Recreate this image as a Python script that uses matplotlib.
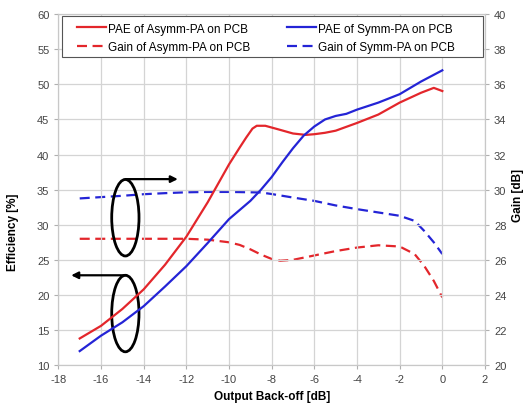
import matplotlib
matplotlib.use('Agg')
from matplotlib import pyplot as plt
from matplotlib.patches import Ellipse, Rectangle

plt.rcParams['font.family'] = ['Liberation Sans', 'DejaVu Sans']
plt.rcParams['axes.unicode_minus'] = False

# PAE curves (left axis, %)
x_pae_a = [-17, -16, -15, -14, -13, -12, -11, -10, -9.5, -9.2, -8.9, -8.7,
           -8.3, -7.7, -7.0, -6.4, -6.0, -5.5, -5.0, -4.0, -3.0, -2.0, -1.0,
           -0.4, 0]
pae_a = [13.8, 15.6, 18.0, 20.8, 24.3, 28.3, 33.2, 38.6, 41.0, 42.4, 43.7, 44.1,
         44.1, 43.6, 43.0, 42.8, 42.9, 43.1, 43.4, 44.5, 45.7, 47.4, 48.8,
         49.5, 49.05]

x_pae_s = [-17, -16, -15, -14, -13, -12, -11, -10, -9, -8.5, -8, -7.5, -7,
           -6.5, -6, -5.5, -5, -4.5, -4, -3, -2, -1, 0]
pae_s = [12.0, 14.2, 16.1, 18.4, 21.2, 24.1, 27.4, 30.8, 33.4, 35.0, 36.8, 38.9,
         40.9, 42.7, 44.0, 45.0, 45.5, 45.8, 46.4, 47.4, 48.6, 50.4, 52.0]

# gain curves (right axis, dB)
x_gain_a = [-17, -15, -13, -12, -11, -10, -9.5, -9.0, -8.5, -8.0, -7.6, -7.0,
            -6.0, -5.0, -4.0, -3.0, -2.0, -1.3, -0.85, -0.4, 0]
gain_a = [27.2, 27.2, 27.2, 27.2, 27.15, 27.0, 26.85, 26.6, 26.3, 26.05, 25.95,
          26.0, 26.25, 26.5, 26.7, 26.83, 26.76, 26.33, 25.66, 24.8, 23.86]

x_gain_s = [-17, -15, -14, -13, -12, -11, -10, -9, -8.5, -8, -7, -6, -5, -4,
            -3, -2, -1.3, -0.85, -0.4, 0]
gain_s = [29.5, 29.65, 29.74, 29.8, 29.85, 29.87, 29.87, 29.85, 29.84, 29.75,
          29.55, 29.36, 29.1, 28.89, 28.7, 28.51, 28.22, 27.65, 27.0, 26.33]

labels = ['PAE of Asymm-PA on PCB', 'Gain of Asymm-PA on PCB',
          'PAE of Symm-PA on PCB', 'Gain of Symm-PA on PCB']

red = '#e3262b'
blue = '#2424d6'
grid_c = '#d4d4d4'
tick_c = '#444444'

fig = plt.figure(figsize=(5.26, 4.10), dpi=100)
ax1 = fig.add_axes([0.111, 0.107, 0.811, 0.856])
ax2 = ax1.twinx()

l1, = ax1.plot(x_pae_a, pae_a, color=red, lw=1.6)
l3, = ax1.plot(x_pae_s, pae_s, color=blue, lw=1.6)
l2, = ax2.plot(x_gain_a, gain_a, color=red, lw=1.6, dashes=(4.5, 2.5))
l4, = ax2.plot(x_gain_s, gain_s, color=blue, lw=1.6, dashes=(4.5, 2.5))

ax1.set_xlim(-18, 2)
ax1.set_ylim(10, 60)
ax2.set_ylim(20, 40)
ax1.set_xticks(range(-18, 3, 2))
ax1.set_yticks(range(10, 61, 5))
ax2.set_yticks(range(20, 41, 2))

ax1.grid(True, color=grid_c, lw=0.9)
ax1.set_axisbelow(True)
for a in (ax1, ax2):
    for s in a.spines.values():
        s.set_color('#c8c8c8')
    a.tick_params(colors='#b0b0b0', labelcolor=tick_c, labelsize=8, length=3)

ax1.set_xlabel('Output Back-off [dB]', fontsize=8.5, fontweight='bold')
ax1.set_ylabel('Efficiency [%]', fontsize=8.5, fontweight='bold')
ax1.yaxis.set_label_coords(-0.093, 0.38)
ax2.set_ylabel('Gain [dB]', fontsize=8.5, fontweight='bold', rotation=90)
ax2.yaxis.set_label_coords(1.064, 0.487)

# ellipses and arrows
ax1.add_patch(Ellipse((-14.86, 31.0), 1.28, 10.9, fill=False, ec='black', lw=2))
ax1.add_patch(Ellipse((-14.86, 17.35), 1.28, 10.9, fill=False, ec='black', lw=2))
ax1.annotate('', xy=(-12.4, 36.5), xytext=(-14.85, 36.5),
             arrowprops=dict(arrowstyle='-|>', color='black', lw=1.6,
                             mutation_scale=10, shrinkA=0, shrinkB=0))
ax1.annotate('', xy=(-17.4, 22.8), xytext=(-14.85, 22.8),
             arrowprops=dict(arrowstyle='-|>', color='black', lw=1.6,
                             mutation_scale=10, shrinkA=0, shrinkB=0))

# legend box drawn separately, entries placed inside
fig.add_artist(Rectangle((62 / 526, 1 - 58 / 410), 421 / 526, 41 / 410,
                         transform=fig.transFigure, fill=True, fc='white',
                         ec='#555555', lw=0.8, zorder=5))
leg = fig.legend([l1, l2, l3, l4], labels, ncol=2, loc='upper left',
                 bbox_to_anchor=(77 / 526, 1 - 23.5 / 410), fontsize=8.5,
                 frameon=False, handlelength=2.45, handletextpad=0.2,
                 columnspacing=3.1, borderpad=0, borderaxespad=0,
                 labelspacing=0.55)
leg.set_zorder(6)
ax1.set_zorder(ax2.get_zorder() + 1)
ax1.patch.set_visible(False)

plt.savefig('out.png', dpi=100)
